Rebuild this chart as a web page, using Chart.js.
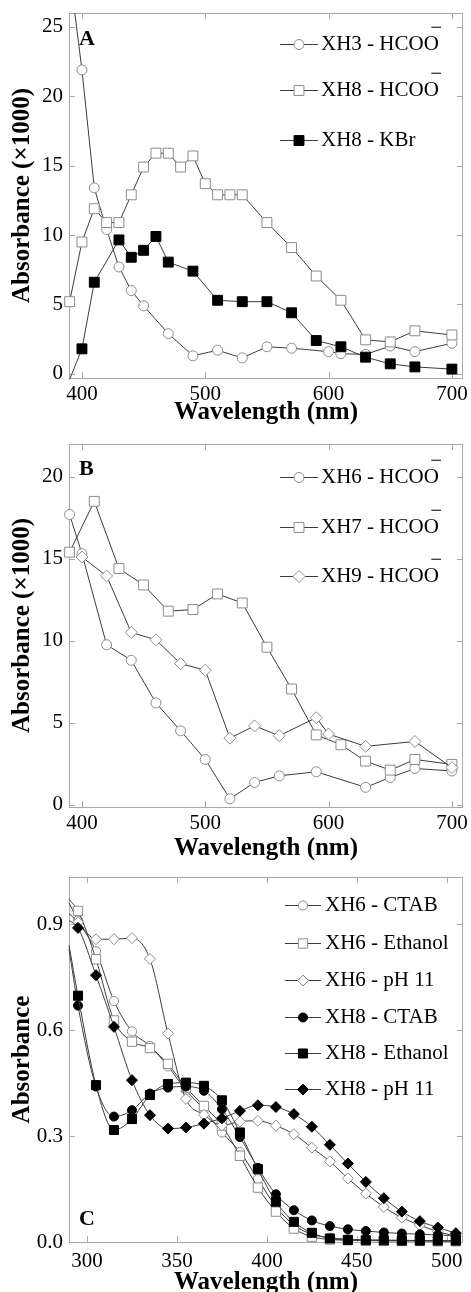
<!DOCTYPE html>
<html>
<head>
<meta charset="utf-8">
<script src="https://cdn.jsdelivr.net/npm/chart.js@4.4.1/dist/chart.umd.min.js"></script>
<style>
    html, body { margin: 0; padding: 0; background: #fff; }
    #wrap { position: relative; width: 471px; height: 1292px; }
    #wrap canvas { position: absolute; left: 0; top: 0; }
</style>
</head>
<body>
<div id="wrap">
    <canvas id="panelA" width="471" height="1292"></canvas>
    <canvas id="panelB" width="471" height="1292"></canvas>
    <canvas id="panelC" width="471" height="1292"></canvas>
</div>
<script>
// Panel A
const wlA_xh3 = [390, 400, 410, 420, 430, 440, 450, 470, 490, 510, 530, 550, 570, 600, 610, 630, 650, 670, 700];
const absA_xh3 = [29, 21.9, 13.4, 10.4, 7.7, 6.0, 4.9, 2.9, 1.3, 1.7, 1.15, 1.95, 1.85, 1.6, 1.45, 1.4, 2.0, 1.6, 2.2];
const wlA_xh8 = [390, 400, 410, 420, 430, 440, 450, 460, 470, 480, 490, 500, 510, 520, 530, 550, 570, 590, 610, 630, 650, 670, 700];
const absA_xh8 = [5.2, 9.5, 11.9, 10.9, 10.9, 12.9, 14.9, 15.9, 15.9, 14.9, 15.7, 13.7, 12.9, 12.9, 12.9, 10.9, 9.1, 7.05, 5.3, 2.45, 2.3, 3.1, 2.8];
const wlA_kbr = [390, 400, 410, 430, 440, 450, 460, 470, 490, 510, 530, 550, 570, 590, 610, 630, 650, 670, 700];
const absA_kbr = [-0.4, 1.8, 6.6, 9.65, 8.4, 8.9, 9.9, 8.05, 7.4, 5.3, 5.2, 5.2, 4.4, 2.4, 1.95, 1.2, 0.72, 0.5, 0.34];

// Panel B
const wlB_xh6 = [390, 400, 420, 440, 460, 480, 500, 520, 540, 560, 590, 630, 650, 670, 700];
const absB_xh6 = [17.7, 15.3, 9.75, 8.8, 6.2, 4.5, 2.75, 0.35, 1.35, 1.75, 2.0, 1.05, 1.65, 2.2, 2.05];
const wlB_xh7 = [390, 410, 430, 450, 470, 490, 510, 530, 550, 570, 590, 610, 630, 650, 670, 700];
const absB_xh7 = [15.4, 18.5, 14.4, 13.4, 11.8, 11.9, 12.85, 12.3, 9.6, 7.05, 4.25, 3.65, 2.65, 2.1, 2.75, 2.45];
const wlB_xh9 = [400, 420, 440, 460, 480, 500, 520, 540, 560, 590, 600, 630, 670, 700];
const absB_xh9 = [15.1, 13.95, 10.5, 10.05, 8.6, 8.2, 4.05, 4.8, 4.2, 5.3, 4.3, 3.55, 3.85, 2.25];

// Panel C
const wlC = [290, 295, 305, 315, 325, 335, 345, 355, 365, 375, 385, 395, 405, 415, 425, 435, 445, 455, 465, 475, 485, 495, 505];
const absC_xh6Ctab = [0.96, 0.91, 0.823, 0.682, 0.596, 0.555, 0.497, 0.43, 0.375, 0.31, 0.255, 0.178, 0.1, 0.048, 0.022, 0.012, 0.008, 0.006, 0.005, 0.005, 0.004, 0.004, 0.004];
const absC_xh6Eth = [0.97, 0.937, 0.8, 0.627, 0.567, 0.549, 0.504, 0.437, 0.385, 0.33, 0.244, 0.154, 0.086, 0.038, 0.015, 0.007, 0.005, 0.004, 0.003, 0.003, 0.003, 0.002, 0.002];
const absC_xh6Ph = [0.93, 0.905, 0.857, 0.857, 0.86, 0.801, 0.59, 0.405, 0.36, 0.33, 0.341, 0.343, 0.329, 0.305, 0.267, 0.228, 0.18, 0.137, 0.099, 0.069, 0.048, 0.029, 0.017];
const absC_xh8Ctab = [0.83, 0.669, 0.44, 0.355, 0.373, 0.42, 0.437, 0.44, 0.428, 0.376, 0.297, 0.21, 0.135, 0.09, 0.061, 0.045, 0.036, 0.031, 0.027, 0.024, 0.022, 0.02, 0.018];
const absC_xh8Eth = [0.84, 0.697, 0.444, 0.317, 0.348, 0.416, 0.447, 0.451, 0.442, 0.401, 0.31, 0.206, 0.114, 0.057, 0.026, 0.01, 0.006, 0.005, 0.005, 0.004, 0.004, 0.004, 0.004];
const absC_xh8Ph = [0.91, 0.889, 0.755, 0.609, 0.458, 0.359, 0.321, 0.324, 0.335, 0.35, 0.371, 0.387, 0.382, 0.362, 0.326, 0.275, 0.222, 0.17, 0.124, 0.086, 0.059, 0.041, 0.025];

// Tick labels
const xTicksAB = [400, 500, 600, 700];
const xTicksC = [300, 350, 400, 450, 500];
const yTicksA = [0, 5, 10, 15, 20, 25];
const yTicksB = [0, 5, 10, 15, 20];
const yTicksC = [0, 0.3, 0.6, 0.9];

const FONT = "'Liberation Serif', 'Times New Roman', Times, serif";
const LINE = '#3c3c3c';
const OPEN = '#8c8c8c';
const FRAME = '#a8a8a8';
const PAGE_H = 1292;

// Hide markers that sit outside the axes (the line still runs to them).
function markerSize(size) {
    return (ctx) => {
        const p = ctx.raw;
        const s = ctx.chart.scales;
        if (!p || !s.x) return size;
        if (p.y > s.y.max || p.y < s.y.min || p.x <= s.x.min) return 0;
        return size;
    };
}

function dataset(label, wl, abs, shape, filled, size, order, smooth) {
    return {
        label,
        data: wl.map((x, i) => ({ x, y: abs[i] })),
        borderColor: LINE,
        borderWidth: 1,
        pointStyle: shape,
        pointRadius: markerSize(size),
        legendSize: size,
        pointBackgroundColor: filled ? '#000' : '#fff',
        pointBorderColor: filled ? '#000' : OPEN,
        pointBorderWidth: 1,
        cubicInterpolationMode: smooth ? 'monotone' : 'default',
        tension: 0,
        order,
        clip: { left: 12, right: 12, top: 0, bottom: 8 },
    };
}

const panelDecor = {
    id: 'panelDecor',
    beforeDatasetsDraw(chart, args, opts) {
        const { ctx, chartArea: a, scales } = chart;
        ctx.save();
        ctx.strokeStyle = FRAME;
        ctx.lineWidth = 1;
        ctx.strokeRect(a.left + 0.5, a.top + 0.5, a.right - a.left - 1, a.bottom - a.top);
        ctx.beginPath();
        scales.x.ticks.forEach((t) => {
            const px = Math.round(scales.x.getPixelForValue(t.value)) + 0.5;
            ctx.moveTo(px, a.bottom); ctx.lineTo(px, a.bottom - 6);
            ctx.moveTo(px, a.top); ctx.lineTo(px, a.top + 6);
        });
        scales.y.ticks.forEach((t) => {
            const py = Math.round(scales.y.getPixelForValue(t.value)) + 0.5;
            ctx.moveTo(a.left, py); ctx.lineTo(a.left + 6, py);
            ctx.moveTo(a.right, py); ctx.lineTo(a.right - 6, py);
        });
        ctx.stroke();
        ctx.restore();
    },
    afterDraw(chart, args, opts) {
        const { ctx } = chart;
        ctx.save();
        ctx.fillStyle = '#000';
        ctx.font = `bold 22px ${FONT}`;
        ctx.textBaseline = 'alphabetic';
        ctx.fillText(opts.letter, opts.letterX, opts.letterY);

        const lg = opts.legend;
        chart.data.datasets.forEach((ds, i) => {
            const y = lg.rows[i];
            ctx.strokeStyle = LINE;
            ctx.lineWidth = 1;
            ctx.beginPath();
            ctx.moveTo(lg.x1, y + 0.5);
            ctx.lineTo(lg.x2, y + 0.5);
            ctx.stroke();
            ctx.fillStyle = ds.pointBackgroundColor;
            ctx.strokeStyle = ds.pointBorderColor;
            Chart.helpers.drawPoint(ctx, {
                pointStyle: ds.pointStyle, radius: ds.legendSize, rotation: 0, borderWidth: 1,
            }, (lg.x1 + lg.x2) / 2, y + 0.5);

            ctx.fillStyle = '#000';
            ctx.font = `21px ${FONT}`;
            ctx.textBaseline = 'middle';
            const sup = ds.label.endsWith('\u207B');
            const main = sup ? ds.label.slice(0, -1) : ds.label;
            ctx.fillText(main, lg.textX, y);
            if (sup) {
                // superscript minus, raised above the last letter
                const w = ctx.measureText(main).width;
                ctx.fillText('\u2212', lg.textX + w - 8.5, y - 16);
            }
        });
        ctx.restore();
    },
};

function makePanel(id, p) {
    const xAxisH = p.titleY + 15 - p.bottom;
    new Chart(document.getElementById(id), {
        type: 'line',
        data: { datasets: p.datasets },
        plugins: [panelDecor],
        options: {
            responsive: false,
            animation: false,
            devicePixelRatio: 1,
            layout: { padding: { top: p.top, right: 8, bottom: PAGE_H - p.bottom - xAxisH, left: 0 } },
            plugins: {
                legend: { display: false },
                tooltip: { enabled: false },
                panelDecor: { letter: p.letter, letterX: 79, letterY: p.letterY, legend: p.legend },
            },
            scales: {
                x: {
                    type: 'linear',
                    min: p.xMin,
                    max: p.xMax,
                    afterBuildTicks: (s) => { s.ticks = p.xTicks.map((v) => ({ value: v })); },
                    afterFit: (s) => { s.height = xAxisH; s.paddingLeft = 0; s.paddingRight = 0; },
                    grid: { display: false, drawTicks: false },
                    border: { display: false },
                    ticks: {
                        color: '#000', font: { family: FONT, size: 21 }, padding: p.xTickPad,
                        maxRotation: 0, autoSkip: false,
                    },
                    title: {
                        display: true, text: 'Wavelength (nm)', color: '#000',
                        font: { family: FONT, size: 25, weight: 'bold', lineHeight: 1.2 },
                        padding: { top: 0, bottom: 0 },
                    },
                },
                y: {
                    type: 'linear',
                    min: p.yMin,
                    max: p.yMax,
                    afterBuildTicks: (s) => { s.ticks = p.yTicks.map((v) => ({ value: v })); },
                    afterFit: (s) => { s.width = 69; s.paddingTop = 0; s.paddingBottom = 0; },
                    grid: { display: false, drawTicks: false },
                    border: { display: false },
                    ticks: {
                        color: '#000', font: { family: FONT, size: 21 }, padding: 6,
                        callback: p.yFmt,
                    },
                    title: {
                        display: true, text: p.yTitle, color: '#000',
                        font: { family: FONT, size: 25, weight: 'bold', lineHeight: 1.2 },
                        padding: { top: 8, bottom: 0 },
                    },
                },
            },
        },
    });
}

makePanel('panelA', {
    top: 13, bottom: 378, titleY: 413, xTickPad: 4,
    xMin: 389.5, xMax: 709, yMin: -0.3, yMax: 26,
    xTicks: xTicksAB, yTicks: yTicksA, yFmt: (v) => String(v),
    yTitle: 'Absorbance (\u00D71000)',
    letter: 'A', letterY: 45,
    legend: { x1: 280, x2: 318, textX: 321, rows: [44, 90, 140] },
    datasets: [
        dataset('XH3 - HCOO\u207B', wlA_xh3, absA_xh3, 'circle', false, 5, 3, false),
        dataset('XH8 - HCOO\u207B', wlA_xh8, absA_xh8, 'rect', false, 7, 2, false),
        dataset('XH8 - KBr', wlA_kbr, absA_kbr, 'rect', true, 7, 1, false),
    ],
});

makePanel('panelB', {
    top: 444, bottom: 807, titleY: 849, xTickPad: 4,
    xMin: 389.5, xMax: 709, yMin: -0.15, yMax: 22,
    xTicks: xTicksAB, yTicks: yTicksB, yFmt: (v) => String(v),
    yTitle: 'Absorbance (\u00D71000)',
    letter: 'B', letterY: 475,
    legend: { x1: 280, x2: 318, textX: 321, rows: [477, 527, 576] },
    datasets: [
        dataset('XH6 - HCOO\u207B', wlB_xh6, absB_xh6, 'circle', false, 5, 3, false),
        dataset('XH7 - HCOO\u207B', wlB_xh7, absB_xh7, 'rect', false, 7, 2, false),
        dataset('XH9 - HCOO\u207B', wlB_xh9, absB_xh9, 'rectRot', false, 6, 1, false),
    ],
});

makePanel('panelC', {
    top: 877, bottom: 1242, titleY: 1283, xTickPad: 7,
    xMin: 290, xMax: 509, yMin: 0, yMax: 1.033,
    xTicks: xTicksC, yTicks: yTicksC, yFmt: (v) => v.toFixed(1),
    yTitle: 'Absorbance',
    letter: 'C', letterY: 1225,
    legend: { x1: 285, x2: 321, textX: 325, rows: [905, 943, 980, 1017, 1053, 1089] },
    datasets: [
        dataset('XH6 - CTAB', wlC, absC_xh6Ctab, 'circle', false, 4.6, 6, true),
        dataset('XH6 - Ethanol', wlC, absC_xh6Eth, 'rect', false, 6.6, 5, true),
        dataset('XH6 - pH 11', wlC, absC_xh6Ph, 'rectRot', false, 5.5, 4, true),
        dataset('XH8 - CTAB', wlC, absC_xh8Ctab, 'circle', true, 4.5, 3, true),
        dataset('XH8 - Ethanol', wlC, absC_xh8Eth, 'rect', true, 6.4, 2, true),
        dataset('XH8 - pH 11', wlC, absC_xh8Ph, 'rectRot', true, 5.5, 1, true),
    ],
});
</script>
</body>
</html>
